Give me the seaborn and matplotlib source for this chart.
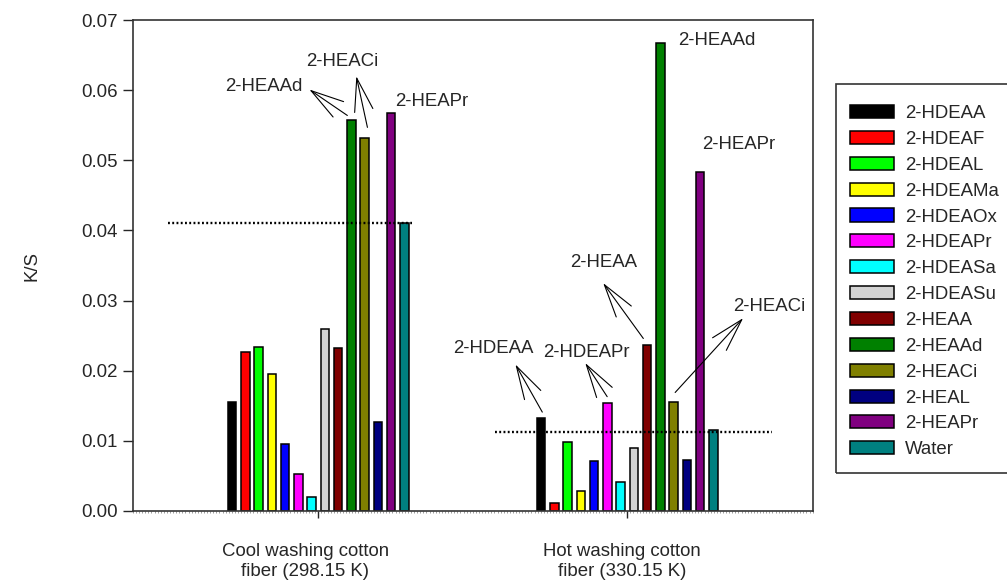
import pandas as pd
import seaborn as sns
import matplotlib.pyplot as plt
from matplotlib.patches import Rectangle
from matplotlib.transforms import ScaledTranslation
from matplotlib.ticker import MultipleLocator, FormatStrFormatter

# data
compounds = ['2-HDEAA', '2-HDEAF', '2-HDEAL', '2-HDEAMa', '2-HDEAOx', '2-HDEAPr', '2-HDEASa',
             '2-HDEASu', '2-HEAA', '2-HEAAd', '2-HEACi', '2-HEAL', '2-HEAPr', 'Water']
colors = ['#000000', '#FF0000', '#00FF00', '#FFFF00', '#0000FF', '#FF00FF', '#00FFFF',
          '#D3D3D3', '#800000', '#008000', '#808000', '#000080', '#800080', '#008080']
fibers = ['Cool washing cotton\nfiber (298.15 K)', 'Hot washing cotton\nfiber (330.15 K)']
cool_ks = [0.0155, 0.0226, 0.0234, 0.0195, 0.0095, 0.0053, 0.0020,
           0.0260, 0.0233, 0.0558, 0.0532, 0.0127, 0.0567, 0.0411]
hot_ks = [0.0132, 0.0011, 0.0098, 0.0028, 0.0071, 0.0154, 0.0041,
          0.0090, 0.0236, 0.0667, 0.0156, 0.0073, 0.0484, 0.0115]
water_ref = [0.0411, 0.0113]

df = pd.DataFrame({
    'fiber': [fibers[0]] * len(compounds) + [fibers[1]] * len(compounds),
    'compound': compounds * 2,
    'ks': cool_ks + hot_ks,
})

FS = 13.4
sns.set_style('ticks')
plt.rcParams['font.family'] = ['Liberation Sans', 'DejaVu Sans']
plt.rcParams['font.size'] = FS

W, H = 1007, 582
fig = plt.figure(figsize=(W / 100, H / 100), dpi=100)
ax = fig.add_axes([0.132, 0.122, 0.675, 0.8435])

sns.barplot(data=df, x='fiber', y='ks', hue='compound', order=fibers, hue_order=compounds,
            palette=colors, width=0.6, gap=0.36, edgecolor='black', linewidth=1.1,
            saturation=1, ax=ax)

# dotted reference lines (water level)
ax.plot([-0.485, 0.304], [water_ref[0]] * 2, color='black', lw=1.7, ls=(0, (0.8, 1.0)))
ax.plot([0.573, 1.469], [water_ref[1]] * 2, color='black', lw=1.7, ls=(0, (0.8, 1.0)))

ax.set_xlim(-0.6, 1.6)
ax.set_ylim(0, 0.07)
ax.yaxis.set_major_locator(MultipleLocator(0.01))
ax.yaxis.set_major_formatter(FormatStrFormatter('%.2f'))
ax.set_ylabel('K/S', fontsize=FS, labelpad=29)
ax.set_xlabel('')
ax.tick_params(axis='y', direction='out', length=7, width=1, labelsize=FS, pad=4)
ax.tick_params(axis='x', direction='out', length=5, width=1, labelsize=FS, pad=18)
ax.xaxis.set_minor_locator(MultipleLocator(0.01))
ax.tick_params(axis='x', which='minor', length=1.5, width=0.4, color='#555555')
for s in ax.spines.values():
    s.set_visible(True)
    s.set_linewidth(1.2)
    s.set_color('#333333')

# the category labels sit a little left of their ticks in the original
for lab, dx in zip(ax.get_xticklabels(), [-13, -5]):
    lab.set_transform(lab.get_transform() + ScaledTranslation(dx / 100, 0, fig.dpi_scale_trans))

arrow = dict(arrowstyle='->,head_length=23.8,head_width=6.7', mutation_scale=1,
             lw=0.8, color='black', shrinkA=0, shrinkB=0)

# labels + arrows, cool group
ax.text(-0.175, 0.0606, '2-HEAAd', ha='center', va='center')
ax.annotate('', xy=(-0.029, 0.0601), xytext=(0.094, 0.0564), arrowprops=arrow)
ax.text(0.078, 0.0641, '2-HEACi', ha='center', va='center')
ax.annotate('', xy=(0.123, 0.0620), xytext=(0.159, 0.0547), arrowprops=arrow)
ax.text(0.366, 0.0584, '2-HEAPr', ha='center', va='center')

# labels + arrows, hot group
ax.text(1.165, 0.0671, '2-HEAAd', ha='left', va='center')
ax.text(1.359, 0.0523, '2-HEAPr', ha='center', va='center')
ax.text(0.922, 0.0355, '2-HEAA', ha='center', va='center')
ax.annotate('', xy=(0.922, 0.0325), xytext=(1.052, 0.0246), arrowprops=arrow)
ax.text(1.343, 0.0291, '2-HEACi', ha='left', va='center')
ax.annotate('', xy=(1.375, 0.0275), xytext=(1.155, 0.0169), arrowprops=arrow)
ax.text(0.867, 0.0226, '2-HDEAPr', ha='center', va='center')
ax.annotate('', xy=(0.864, 0.0211), xytext=(0.935, 0.0163), arrowprops=arrow)
ax.text(0.566, 0.0231, '2-HDEAA', ha='center', va='center')
ax.annotate('', xy=(0.638, 0.0209), xytext=(0.725, 0.0141), arrowprops=arrow)

handles, labels = ax.get_legend_handles_labels()
ax.get_legend().remove()
# legend entries without frame, frame drawn separately so it can run past the right edge
fig.legend(handles, labels, loc='upper left', bbox_to_anchor=(850 / W, 1 - 105 / H),
           frameon=False, fontsize=FS, handlelength=2.35, handleheight=0.7,
           handletextpad=0.6, labelspacing=0.475, borderpad=0, borderaxespad=0)
fig.patches.append(Rectangle((836 / W, 1 - 473 / H), 200 / W, (473 - 84) / H,
                             transform=fig.transFigure, fill=False,
                             edgecolor='#333333', lw=1.2))

fig.savefig('out.png', dpi=100)
